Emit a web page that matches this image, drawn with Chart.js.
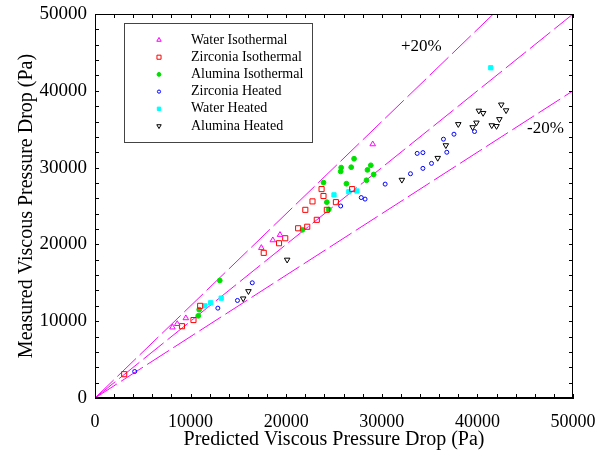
<!DOCTYPE html>
<html>
<head>
<meta charset="utf-8">
<script src="https://cdn.jsdelivr.net/npm/chart.js@4"></script>
<style>
  html,body{margin:0;padding:0;background:#fff;}
  #wrap{width:607px;height:453px;}
</style>
</head>
<body>
<div id="wrap"><canvas id="c" width="607" height="453"></canvas></div>
<script>
// =======================
// Data (Pa)
// =======================
const waterIsoX = [8100, 8600, 9500, 17400, 18600, 19350, 29050];
const waterIsoY = [9200, 9650, 10400, 19550, 20550, 21250, 33050];

const zircIsoX = [3050, 9100, 10300, 11000, 17650, 19250, 19900, 21250, 22200, 23200, 22000, 22750, 24250, 23700, 23900, 25200, 26900];
const zircIsoY = [3100, 9350, 10150, 12000, 18900, 20150, 20800, 22100, 22300, 23200, 24500, 25600, 24500, 27200, 26300, 25500, 27200];

const alumIsoX = [10800, 10900, 13050, 21700, 24450, 24250, 23900, 26300, 25750, 25700, 27100, 26800, 28850, 28500, 28400, 29150];
const alumIsoY = [10700, 11500, 15300, 21900, 24550, 25500, 28050, 27900, 30000, 29500, 31150, 30050, 30300, 29700, 28350, 29100];

const zircHeatX = [4150, 12850, 14900, 16450, 25700, 27850, 28250, 30350, 33000, 34300, 35200, 33700, 34300, 36800, 36450, 37550, 39700];
const zircHeatY = [3450, 11700, 12700, 15000, 25000, 26100, 25900, 27850, 29200, 29900, 30550, 31850, 31950, 32000, 33700, 34350, 34700];

const waterHeatX = [11500, 12100, 13200, 25000, 26550, 27400, 41400];
const waterHeatY = [12000, 12400, 13000, 26450, 26850, 26950, 43000];

const alumHeatX = [15500, 16050, 20100, 32100, 35850, 36700, 38000, 39500, 39900, 40150, 40600, 41500, 42000, 42300, 42500, 43000];
const alumHeatY = [12950, 13900, 18000, 28400, 31250, 32900, 35650, 35250, 35850, 37400, 37100, 35500, 35400, 36300, 38200, 37450];

// reference lines: measured = factor * predicted
const refFactors = [1.2, 1.0, 0.8];
const refLabels = ["+20%", "", "-20%"];
const refLabelX = [32000, 0, 45200];
const refLabelY = [45700, 0, 35150];

const axisMax = 50000;
const tickLabels = [0, 10000, 20000, 30000, 40000, 50000];
const minorStep = 2000;

const seriesNames = ["Water Isothermal", "Zirconia Isothermal", "Alumina Isothermal", "Zirconia Heated", "Water Heated", "Alumina Heated"];

// =======================
// Helpers
// =======================
const zip = (xs, ys) => xs.map((x, i) => ({ x, y: ys[i] }));
function refLine(f) {
  const xEnd = Math.min(axisMax, axisMax / f);
  return [{ x: 0, y: 0 }, { x: xEnd, y: xEnd * f }];
}
const serif = "'Liberation Serif', 'DejaVu Serif', serif";

function marker(ctx, ds, cx, cy, r) {
  ctx.fillStyle = ds.pointBackgroundColor;
  ctx.strokeStyle = ds.pointBorderColor;
  ctx.lineWidth = 1;
  ctx.beginPath();
  if (ds.pointStyle === "circle") ctx.arc(cx, cy, r, 0, Math.PI * 2);
  else if (ds.pointStyle === "rect") ctx.rect(cx - r * 0.707, cy - r * 0.707, r * 1.414, r * 1.414);
  else {
    const s = ds.rotation ? -1 : 1;
    ctx.moveTo(cx, cy - s * r);
    ctx.lineTo(cx + r * 0.866, cy + s * r * 0.5);
    ctx.lineTo(cx - r * 0.866, cy + s * r * 0.5);
    ctx.closePath();
  }
  ctx.fill(); ctx.stroke();
}

// =======================
// Plugins
// =======================
const frameTicks = {
  id: "frameTicks",
  afterDraw(chart) {
    const { ctx, chartArea: a, scales: { x, y } } = chart;
    ctx.save();
    ctx.strokeStyle = "#000";
    ctx.lineWidth = 1;
    ctx.strokeRect(a.left + 0.5, a.top + 0.5, a.right - a.left - 1, a.bottom - a.top - 1);
    ctx.beginPath();
    for (let v = 0; v <= axisMax; v += minorStep) {
      const px = Math.round(x.getPixelForValue(v)) + 0.5;
      ctx.moveTo(px, a.bottom); ctx.lineTo(px, a.bottom - 4);
      ctx.moveTo(px, a.top); ctx.lineTo(px, a.top + 4);
      const py = Math.round(y.getPixelForValue(v)) + 0.5;
      ctx.moveTo(a.left, py); ctx.lineTo(a.left + 4, py);
      ctx.moveTo(a.right, py); ctx.lineTo(a.right - 4, py);
    }
    ctx.stroke();

    // +20% / -20% labels
    ctx.fillStyle = "#000";
    ctx.font = "17px " + serif;
    ctx.textBaseline = "middle";
    ctx.textAlign = "left";
    refLabels.forEach((t, i) => {
      if (!t) return;
      ctx.fillText(t, x.getPixelForValue(refLabelX[i]), y.getPixelForValue(refLabelY[i]));
    });

    // legend box
    const bx = 124, by = 23, bw = 188, bh = 119;
    ctx.fillStyle = "#fff";
    ctx.fillRect(bx, by, bw, bh);
    ctx.strokeStyle = "#444";
    ctx.strokeRect(bx + 0.5, by + 0.5, bw, bh);
    ctx.font = "14px " + serif;
    seriesNames.forEach((name, i) => {
      const ds = chart.data.datasets[i];
      const ly = 40 + i * 17.2;
      marker(ctx, ds, 159, ly, ds.pointRadius * 0.8);
      ctx.fillStyle = "#000";
      ctx.fillText(name, 191, ly);
    });
    ctx.restore();
  }
};

// =======================
// Datasets
// =======================
function pts(label, data, style, color, filled, radius, rotation) {
  return {
    label, data,
    pointStyle: style,
    rotation: rotation || 0,
    pointRadius: radius,
    pointHoverRadius: radius,
    pointBorderColor: color,
    pointBackgroundColor: filled ? color : "rgba(255,255,255,0)",
    pointBorderWidth: 1,
    showLine: false,
    order: 1
  };
}

const datasets = [
  pts(seriesNames[0], zip(waterIsoX, waterIsoY), "triangle", "#ff00ff", false, 3.2),
  pts(seriesNames[1], zip(zircIsoX, zircIsoY), "rect", "#ff0000", false, 3.6),
  pts(seriesNames[2], zip(alumIsoX, alumIsoY), "circle", "#00e000", true, 2.4),
  pts(seriesNames[3], zip(zircHeatX, zircHeatY), "circle", "#0000ff", false, 2.0),
  pts(seriesNames[4], zip(waterHeatX, waterHeatY), "rect", "#00ffff", true, 3.0),
  pts(seriesNames[5], zip(alumHeatX, alumHeatY), "triangle", "#000000", false, 3.2, 180)
];
refFactors.forEach(f => {
  datasets.push({
    label: "ref " + f,
    data: refLine(f),
    showLine: true,
    borderColor: "#ff00ff",
    borderWidth: 1,
    borderDash: [26, 5],
    pointRadius: 0,
    pointHoverRadius: 0,
    fill: false,
    order: 10
  });
});

// =======================
// Chart
// =======================
const plain = v => String(v);
new Chart(document.getElementById("c").getContext("2d"), {
  type: "scatter",
  data: { datasets },
  options: {
    responsive: false,
    devicePixelRatio: 1,
    animation: false,
    events: [],
    layout: { padding: { left: 15, top: 14, right: 34, bottom: 1 } },
    plugins: { legend: { display: false }, tooltip: { enabled: false } },
    scales: {
      x: {
        type: "linear", min: 0, max: axisMax,
        afterBuildTicks: s => { s.ticks = tickLabels.map(v => ({ value: v })); },
        afterFit: s => { s.height = 54; s.paddingLeft = 0; s.paddingRight = 0; },
        grid: { display: false, drawTicks: false },
        border: { display: true, color: "#000", width: 1 },
        ticks: { color: "#000", padding: 13, maxRotation: 0, callback: plain, font: { family: serif, size: 18 } },
        title: { display: true, text: "Predicted Viscous Pressure Drop (Pa)", color: "#000", padding: { top: 0, bottom: 0 }, font: { family: serif, size: 20 } }
      },
      y: {
        type: "linear", min: 0, max: axisMax,
        afterBuildTicks: s => { s.ticks = tickLabels.map(v => ({ value: v })); },
        afterFit: s => { s.width = 80; s.paddingTop = 0; s.paddingBottom = 0; },
        grid: { display: false, drawTicks: false },
        border: { display: true, color: "#000", width: 1 },
        ticks: { color: "#000", padding: 8, callback: plain, font: { family: serif, size: 19 } },
        title: { display: true, text: "Measured Viscous Pressure Drop (Pa)", color: "#000", padding: { top: 0, bottom: 0 }, font: { family: serif, size: 20 } }
      }
    }
  },
  plugins: [frameTicks]
});
</script>
</body>
</html>
